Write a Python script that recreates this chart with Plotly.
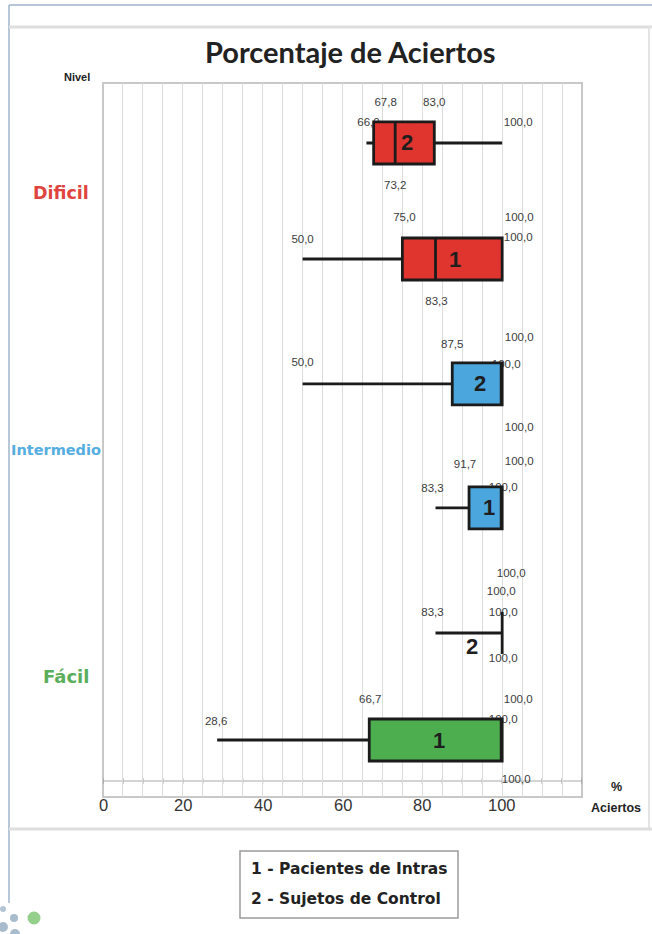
import plotly.graph_objects as go

# ---- data: five-number summaries of "% Aciertos" per level and group ----
niveles = ["Dificil", "Intermedio", "Fácil"]
grupos = ["1", "2"]
leyenda = ["1 - Pacientes de Intras", "2 - Sujetos de Control"]

minimo_g1 = [50.0, 83.3, 28.6]
q1_g1 = [75.0, 91.7, 66.7]
mediana_g1 = [83.3, 100.0, 100.0]
q3_g1 = [100.0, 100.0, 100.0]
maximo_g1 = [100.0, 100.0, 100.0]

minimo_g2 = [66.0, 50.0, 83.3]
q1_g2 = [67.8, 87.5, 100.0]
mediana_g2 = [73.2, 100.0, 100.0]
q3_g2 = [83.0, 100.0, 100.0]
maximo_g2 = [100.0, 100.0, 100.0]

eje_ticks = [0, 20, 40, 60, 80, 100]

# ---- layout constants (pixels of the 652x934 page) ----
W, H = 652, 934
PX_L, PX_R, PX_T, PX_B = 103, 582, 83, 797
X_MAX = 120
Y_MAX = 6.0
colores_nivel = {"Dificil": "#E0342F", "Intermedio": "#4BA6DE", "Fácil": "#4DAE50"}
texto_nivel = {"Dificil": "#E0443F", "Intermedio": "#55ADE0", "Fácil": "#5BAE5B"}
tam_nivel = {"Dificil": 17.5, "Intermedio": 14.5, "Fácil": 18}

# vertical slot of each box (y axis units, top = 0)
posicion = {
    ("Dificil", "2"): 0.504, ("Dificil", "1"): 1.479,
    ("Intermedio", "2"): 2.529, ("Intermedio", "1"): 3.571,
    ("Fácil", "2"): 4.622, ("Fácil", "1"): 5.521,
}
# value-label offsets (px) around each box: (dx, dy), dy positive downward
desplaz = {
    ("Dificil", "2"): dict(min=(2, -20), q1=(12, -40), q3=(0, -40), max=(16, -20), med=(0, 43)),
    ("Dificil", "1"): dict(min=(0, -19), q1=(2, -41), q3=(17, -41), max=(16, -21), med=(1, 43)),
    ("Intermedio", "2"): dict(min=(0, -21), q1=(0, -39), q3=(17, -46), max=(4, -19), med=(17, 44)),
    ("Intermedio", "1"): dict(min=(-3, -19), q1=(-4, -43), q3=(17, -46), max=(1, -20), med=(9, 66)),
    ("Fácil", "2"): dict(min=(-3, -20), q1=(-1, -41), q3=(-1, -41), max=(1, -20), med=(1, 26)),
    ("Fácil", "1"): dict(min=(-1, -18), q1=(1, -40), q3=(16, -40), max=(1, -20), med=(14, 40)),
}

PPU_X = (PX_R - PX_L) / X_MAX
PPU_Y = (PX_B - PX_T) / Y_MAX


def paper_x(px):
    return (px - PX_L) / (PX_R - PX_L)


def paper_y(py):
    return 1 - (py - PX_T) / (PX_B - PX_T)


def fmt(v):
    return f"{v:.1f}".replace(".", ",")


stats = {
    "1": (minimo_g1, q1_g1, mediana_g1, q3_g1, maximo_g1),
    "2": (minimo_g2, q1_g2, mediana_g2, q3_g2, maximo_g2),
}

fig = go.Figure()
annotations = []

# value labels first, so the boxes sit over them
lab_x, lab_y, lab_t = [], [], []
for (nivel, grupo), ypos in posicion.items():
    i = niveles.index(nivel)
    mn, a, md, b, mx = (s[i] for s in stats[grupo])
    vals = dict(min=mn, q1=a, q3=b, max=mx, med=md)
    seen = set()
    for rol, v in vals.items():
        dx, dy = desplaz[(nivel, grupo)][rol]
        key = (round(v + dx / PPU_X, 3), round(ypos + dy / PPU_Y, 3), fmt(v))
        if key in seen:
            continue
        seen.add(key)
        lab_x.append(key[0])
        lab_y.append(key[1])
        lab_t.append(key[2])

fig.add_trace(go.Scatter(
    x=lab_x, y=lab_y, text=lab_t, mode="text", textposition="middle center",
    textfont=dict(family="Liberation Sans, Arial", size=11.5, color="#3c3c3c"),
    hoverinfo="skip", showlegend=False, zorder=0,
))

for (nivel, grupo), ypos in posicion.items():
    i = niveles.index(nivel)
    mn, a, md, b, mx = (s[i] for s in stats[grupo])
    fig.add_trace(go.Box(
        orientation="h", y=[ypos], q1=[a], median=[md], q3=[b],
        lowerfence=[mn], upperfence=[mx], width=0.353, whiskerwidth=0,
        fillcolor=colores_nivel[nivel], line=dict(color="#1b1b1b", width=2.8),
        boxpoints=False, showlegend=False, hoverinfo="skip", zorder=1,
    ))
    # group number inside the box (or under the whisker when the box collapses)
    if b - a < 1:
        tx, ty, ys = (mn + mx) / 2, ypos, -13
    else:
        tx, ty, ys = (a + b) / 2, ypos, 0
    annotations.append(dict(
        x=tx, y=ty, xref="x", yref="y", text=f"<b>{grupo}</b>", showarrow=False,
        xshift=3, yshift=ys, xanchor="center", yanchor="middle",
        font=dict(family="Liberation Sans, Arial", size=22, color="#1e1e1e"),
    ))

# level names on the left, centred between the two boxes of each level
nivel_shift = {"Dificil": 8, "Intermedio": -4, "Fácil": 10}
nivel_cx = {"Dificil": 61, "Intermedio": 56, "Fácil": 66}
for nivel in niveles:
    yc = (posicion[(nivel, "1")] + posicion[(nivel, "2")]) / 2
    annotations.append(dict(
        x=paper_x(nivel_cx[nivel]), y=yc, xref="paper", yref="y", yshift=nivel_shift[nivel],
        text=f"<b>{nivel}</b>", showarrow=False, xanchor="center", yanchor="middle",
        font=dict(family="DejaVu Sans", size=tam_nivel[nivel], color=texto_nivel[nivel]),
    ))

# x tick labels, sitting on the lower frame edge
for t in eje_ticks:
    annotations.append(dict(
        x=t, y=paper_y(805), xref="x", yref="paper", text=str(t), showarrow=False,
        xanchor="center", yanchor="middle",
        font=dict(family="Liberation Sans, Arial", size=16.5, color="#333333"),
    ))


def page_text(px, py, txt, size, family="Liberation Sans, Arial", anchor="center"):
    annotations.append(dict(
        x=paper_x(px), y=paper_y(py), xref="paper", yref="paper", showarrow=False,
        text=txt, xanchor=anchor, yanchor="middle",
        font=dict(family=family, size=size, color="#222222"),
    ))


# titles and axis captions
page_text(350, 52, "<b>Porcentaje de Aciertos</b>", 29, family="Lato")
page_text(77, 77, "<b>Nivel</b>", 11)
page_text(616, 787, "<b>%</b>", 12.5)
page_text(616, 808, "<b>Aciertos</b>", 12.5)
for k, txt in enumerate(leyenda):
    page_text(249, 869 + 30 * k, f"<b>{txt}</b>", 15.5, family="DejaVu Sans", anchor="left")

shapes = []


def pline(x0, y0, x1, y1, color, width):
    shapes.append(dict(type="line", xref="paper", yref="paper",
                       x0=paper_x(x0), y0=paper_y(y0), x1=paper_x(x1), y1=paper_y(y1),
                       line=dict(color=color, width=width), layer="above"))


# slide panel borders
pline(9, 5, 652, 5, "#9fb4cc", 1.5)
pline(9, 5, 9, 903, "#9fb4cc", 1.5)
pline(9, 27, 652, 27, "#dedede", 3)
pline(649, 27, 649, 829, "#e4e4e4", 2)
pline(9, 829, 652, 829, "#dedede", 3)

# plot frame
shapes.append(dict(type="rect", xref="paper", yref="paper", x0=0, x1=1, y0=0, y1=1,
                   line=dict(color="#c8c8c8", width=2), fillcolor="rgba(0,0,0,0)", layer="below"))

# inner axis line with small ticks
y_axis_line = (781 - PX_T) / PPU_Y
shapes.append(dict(type="line", xref="x", yref="y", x0=0, x1=X_MAX, y0=y_axis_line, y1=y_axis_line,
                   line=dict(color="#a8a8a8", width=1), layer="below"))
for t in range(0, X_MAX + 1, 5):
    shapes.append(dict(type="line", xref="x", yref="y", x0=t, x1=t,
                       y0=y_axis_line - 3 / PPU_Y, y1=y_axis_line + 3 / PPU_Y,
                       line=dict(color="#999999", width=1), layer="below"))

# legend frame
shapes.append(dict(type="rect", xref="paper", yref="paper",
                   x0=paper_x(240), x1=paper_x(458), y0=paper_y(851), y1=paper_y(918),
                   line=dict(color="#9a9a9a", width=1.5), fillcolor="rgba(0,0,0,0)", layer="above"))

# decorative dots in the lower-left corner
for cx, cy, r, col in [(3, 909, 3, "#b4c4d4"), (14, 918, 4, "#a9bccd"), (3, 927, 5, "#a9bccd"),
                       (15, 934, 5, "#a9bccd"), (34, 918, 6.5, "#94cf8c")]:
    shapes.append(dict(type="circle", xref="paper", yref="paper",
                       x0=paper_x(cx - r), x1=paper_x(cx + r), y0=paper_y(cy + r), y1=paper_y(cy - r),
                       line=dict(width=0), fillcolor=col, layer="above"))

fig.update_layout(
    width=W, height=H,
    margin=dict(l=PX_L, r=W - PX_R, t=PX_T, b=H - PX_B, pad=0),
    paper_bgcolor="white", plot_bgcolor="white",
    showlegend=False,
    annotations=annotations,
    shapes=shapes,
    xaxis=dict(
        range=[0, X_MAX], tickvals=eje_ticks, showticklabels=False,
        showgrid=True, gridcolor="#dcdcdc", gridwidth=1,
        minor=dict(dtick=5, tick0=0, showgrid=True, gridcolor="#dcdcdc", gridwidth=1),
        showline=False, ticks="", zeroline=False,
    ),
    yaxis=dict(
        range=[Y_MAX, 0], showgrid=False, showticklabels=False, ticks="",
        showline=False, zeroline=False,
    ),
)

fig.write_html("out.html")
